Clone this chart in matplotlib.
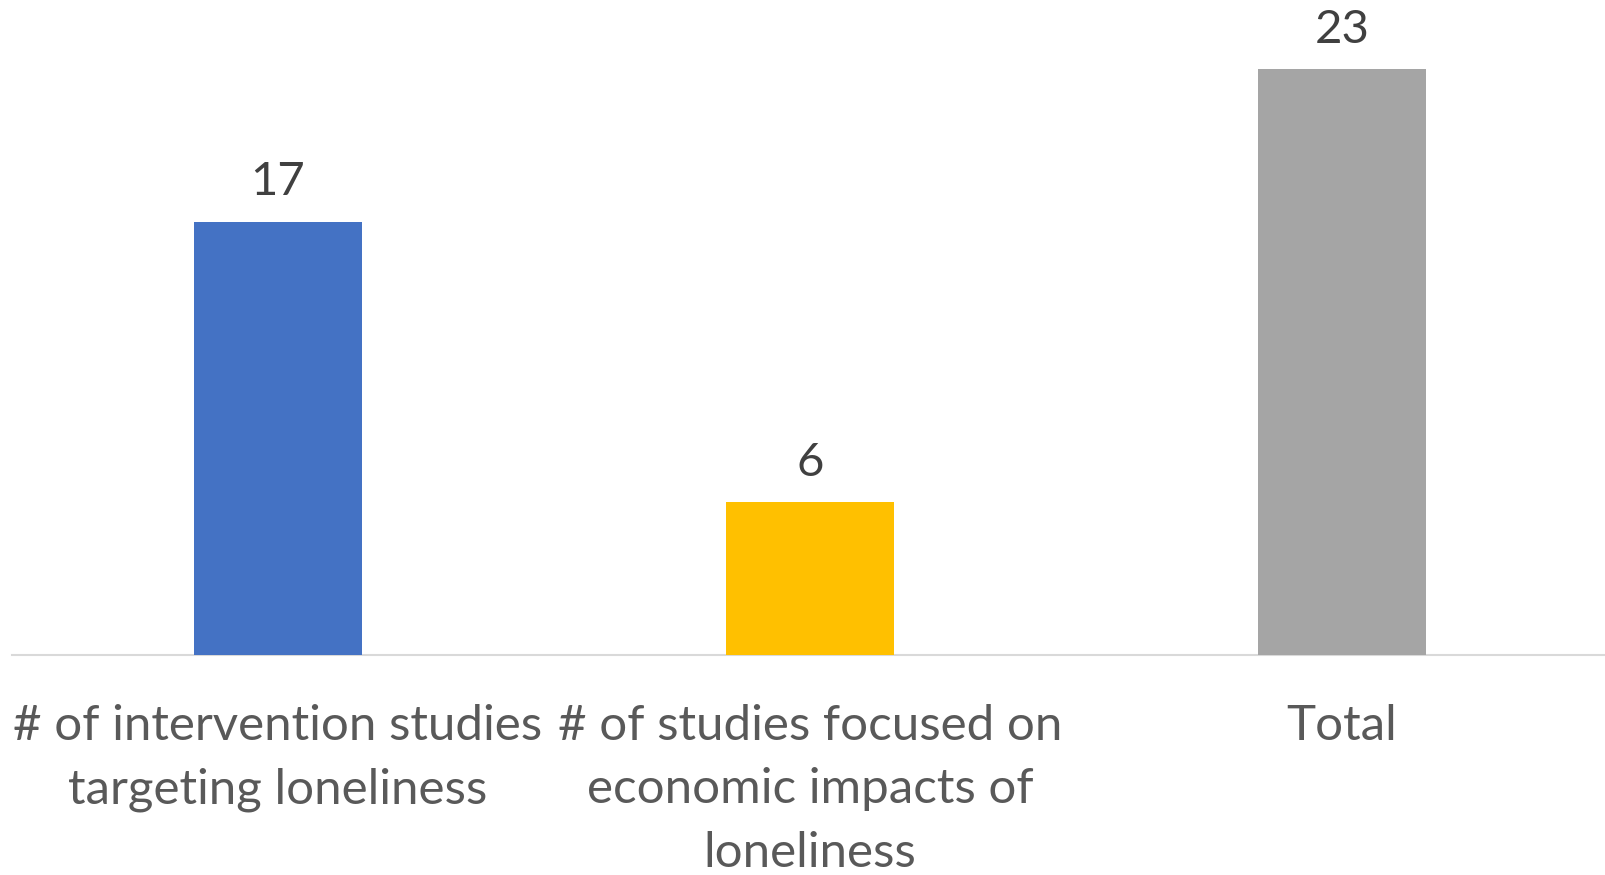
import matplotlib
matplotlib.use('Agg')
import matplotlib.pyplot as plt

# Daten
categories = ['# of intervention studies\ntargeting loneliness',
              '# of studies focused on\neconomic impacts of\nloneliness',
              'Total']
values = [17, 6, 23]
colors = ['#4472C4', '#FFC000', '#A5A5A5']

plt.rcParams['font.family'] = ['Lato', 'DejaVu Sans']

fig = plt.figure(figsize=(16.06, 8.75), dpi=100)
ax = fig.add_axes([12 / 1606, 1 - 655 / 875, 1596 / 1606, 655 / 875])

x = range(len(categories))
ax.bar(x, values, width=0.316, color=colors, zorder=3)

for i, v in enumerate(values):
    ax.text(i, v + 0.72, str(v), ha='center', va='bottom',
            fontsize=34, color='#404040')

ax.set_xlim(-0.5, 2.5)
ax.set_ylim(0, 655 / 25.48)
ax.set_xticks(list(x))
ax.set_xticklabels(categories, fontsize=35.5, color='#595959', linespacing=1.55)
ax.tick_params(axis='x', length=0, pad=35)
ax.set_yticks([])

for s in ['top', 'right', 'left']:
    ax.spines[s].set_visible(False)
ax.spines['bottom'].set_color('#D9D9D9')
ax.spines['bottom'].set_linewidth(1.5)

fig.savefig('out.png', dpi=100)
